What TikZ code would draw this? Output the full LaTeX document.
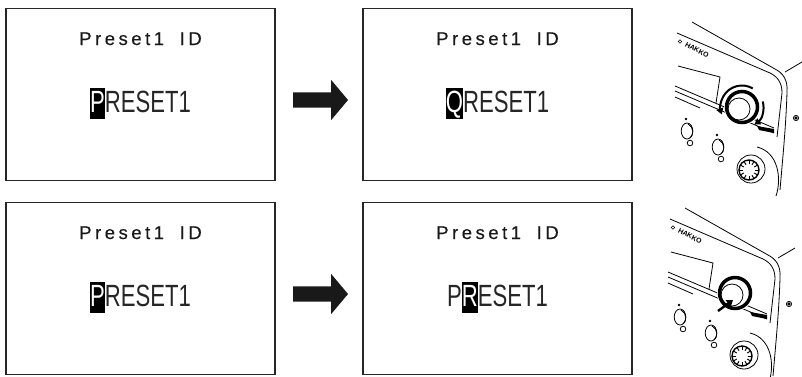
\documentclass[tikz,border=0pt]{standalone}
\usepackage{fontspec}
\setmainfont{Liberation Sans}
\newfontfamily\titrefont[LetterSpace=19, FakeBold=0.4]{Liberation Sans}
\newfontfamily\lcdfont[FakeStretch=0.72]{Liberation Sans}
\usetikzlibrary{shapes.arrows, arrows.meta}

\newcommand\curseur[1]{{\setlength\fboxsep{0pt}\colorbox{black}{\rule[-7pt]{0pt}{31pt}\textcolor{white}{#1}}}}

\newcommand\poste{%
	\draw[trait] (692,22) -- (775,69) .. controls (783,73) and (788,80) .. (787,92) .. controls (786,125) and (783,155) .. (780,190);
	\draw[trait] (677,33) -- (770,73) .. controls (778,77) and (782,83) .. (782,93) -- (777,137);
	\draw[trait] (785,72) -- (802,62);
	\draw[trait] (796,118) circle (2.6) (796,118) circle (1);
	\node[rotate=-28, font=\bfseries\fontsize{7}{7}\selectfont, inner sep=0pt] (logo) at (697,50) {HAKKO};
	\draw[line width=0.5pt] (680,41.5) circle (1.7);
	\draw[trait] (678,66) -- (720,77) -- (716,103);
	\draw[trait] (675,86) -- (774,128);
	\draw[trait] (675,91) -- (774,133);
	\draw[trait] (675,97) -- (700,108);
	\fill (757,126) -- (774,129) -- (774,133) -- (759,130) -- cycle;
	\foreach \bx/\by in {687/131, 718/147}{
		\fill (\bx-1,\by-12) circle (1.4);
		\draw[trait] (\bx,\by) ellipse (5.8 and 8);
		\draw[trait] (\bx+1,\by-7) .. controls (\bx+7,\by-4) and (\bx+7,\by+4) .. (\bx+3,\by+7);
		\draw[trait] (\bx+3,\by+12) circle (2.8);
	}
	\draw[trait, fill=white] (751,169) circle (14);
	\draw[line width=1.4pt] (749,170) circle (10);
	\foreach \a in {0,30,...,330}{
		\draw[line width=0.9pt] (749,170) ++(\a:6) -- ++(\a:4);
	}
	\draw[trait] (757,147) .. controls (778,152) and (782,178) .. (776,196);
	\fill[white] (742,107) circle (18);
	\draw[line width=3.5pt] (742,107) circle (15.5);
	\draw[trait] (739,109) circle (11);
}

\begin{document}
\begin{tikzpicture}[x=1pt, y=-1pt]
	\tikzset{ecran/.style={draw=black!85, line width=1.6pt, minimum width=269pt, minimum height=172pt, inner sep=0pt},
	titre/.style={font=\titrefont\fontsize{18.5}{18.5}\selectfont, text=black!90, inner sep=0pt, anchor=base},
	lcd/.style={font=\lcdfont\fontsize{30.7}{30.7}\selectfont, text=black!85, inner sep=0pt, anchor=base},
	fleche/.style={single arrow, fill=black!90, inner sep=0pt, minimum height=55pt, single arrow head extend=12.5pt, single arrow tip angle=100, anchor=tail},
	trait/.style={line width=0.8pt}};
	\useasboundingbox (0,0) rectangle (802,376);

	\foreach \name/\x/\y/\texte in {a/140.5/94.5/{\curseur{P}RESET1}, b/497.5/94.5/{\curseur{Q}RESET1}, c/140.5/288.5/{\curseur{P}RESET1}, d/497.5/288.5/{P\curseur{R}ESET1}}{
		\node[ecran] (\name) at (\x,\y) {};
		\node[titre] (t-\name) at (\x,\y-49.5) {Preset1\hspace{7pt} ID};
		\node[lcd] (l-\name) at (\x,\y+17.5) {\texte};
	}

	\node[fleche] (f-ab) at ([xshift=17pt,yshift=-5.5pt]a.east) {\rule{0pt}{15pt}};
	\node[fleche] (f-cd) at ([xshift=17pt,yshift=-5.5pt]c.east) {\rule{0pt}{15pt}};

	\poste
	\draw[line width=2pt, -{Triangle[length=6pt,width=7pt]}] (742,107) ++(-60:21.5) arc[start angle=-60, end angle=-200, radius=21.5];
	\draw[line width=2pt, -{Triangle[length=6pt,width=7pt]}] (742,107) ++(-15:21.5) arc[start angle=-15, end angle=55, radius=21.5];

	\begin{scope}[shift={(-7,186)}]
		\poste
		\draw[line width=2.4pt, -{Triangle[length=6pt,width=8pt]}] (725,125) -- (740,114);
	\end{scope}

\end{tikzpicture}
\end{document}
